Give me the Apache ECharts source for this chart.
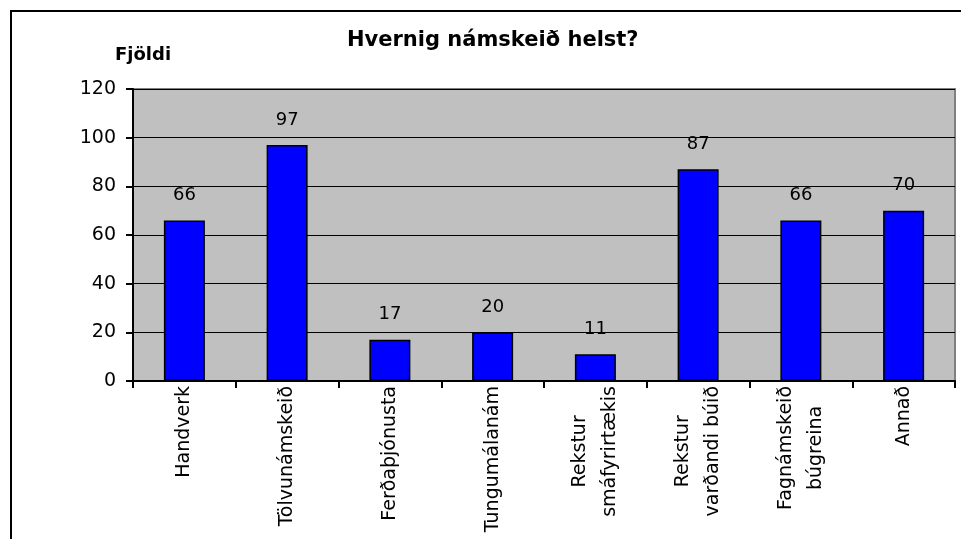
<!DOCTYPE html>
<html>
<head>
<meta charset="utf-8">
<title>Hvernig námskeið helst?</title>
<script src="https://cdn.jsdelivr.net/npm/echarts@6/dist/echarts.min.js"></script>
</head>
<body style="margin:0;background:#fff">
<div id="main" style="width:961px;height:539px;"></div>
<script type="text/javascript">
// data
var categories = ['Handverk', 'Tölvunámskeið', 'Ferðaþjónusta', 'Tungumálanám',
    'Rekstur\nsmáfyrirtækis', 'Rekstur\nvarðandi búið', 'Fagnámskeið\nbúgreina', 'Annað'];
var counts = [66, 97, 17, 20, 11, 87, 66, 70];
var yTicks = [0, 20, 40, 60, 80, 100, 120];

var font = 'DejaVu Sans';
var myChart = echarts.init(document.getElementById('main'));

var option = {
    animation: false,
    backgroundColor: '#ffffff',
    title: [
        {
            text: 'Hvernig námskeið helst?',
            left: 347,
            top: 30,
            padding: 0,
            textStyle: { fontFamily: font, fontSize: 21, fontWeight: 'bold', color: '#000' }
        },
        {
            text: 'Fjöldi',
            left: 115,
            top: 46,
            padding: 0,
            textStyle: { fontFamily: font, fontSize: 18, fontWeight: 'bold', color: '#000' }
        }
    ],
    graphic: [
        {
            // outer frame of the chart
            type: 'rect',
            silent: true,
            shape: { x: 11, y: 11, width: 1200, height: 1200 },
            style: { fill: 'none', stroke: '#000', lineWidth: 2 }
        }
    ],
    grid: {
        left: 133,
        right: 6,
        top: 89,
        bottom: 158,
        show: true,
        backgroundColor: '#c0c0c0',
        borderColor: '#808080',
        borderWidth: 2
    },
    xAxis: {
        type: 'category',
        data: categories,
        axisLine: { show: true, lineStyle: { color: '#000', width: 2 } },
        axisTick: { show: true, length: 7, interval: 0, lineStyle: { color: '#000', width: 2 } },
        axisLabel: {
            interval: 0,
            rotate: 90,
            margin: 5,
            formatter: function (v) {
                return v.split('\n').map(function (s) { return '{c|' + s + '}'; }).join('\n');
            },
            rich: {
                c: { align: 'center', fontFamily: font, fontSize: 19, color: '#000', lineHeight: 30 }
            }
        },
        splitLine: { show: false }
    },
    yAxis: {
        type: 'value',
        min: yTicks[0],
        max: yTicks[yTicks.length - 1],
        interval: 20,
        axisLine: { show: true, lineStyle: { color: '#000', width: 2 } },
        axisTick: { show: true, length: 7, lineStyle: { color: '#000', width: 2 } },
        axisLabel: { margin: 17, fontFamily: font, fontSize: 19, color: '#000' },
        splitLine: { show: true, lineStyle: { color: '#000', width: 1 } }
    },
    series: [
        {
            type: 'bar',
            data: counts,
            barWidth: 41,
            itemStyle: { color: '#0000ff', borderColor: '#000', borderWidth: 1.5 },
            label: {
                show: true,
                position: 'top',
                distance: 16,
                fontFamily: font,
                fontSize: 18,
                color: '#000'
            }
        }
    ]
};
myChart.setOption(option);
</script>
</body>
</html>
